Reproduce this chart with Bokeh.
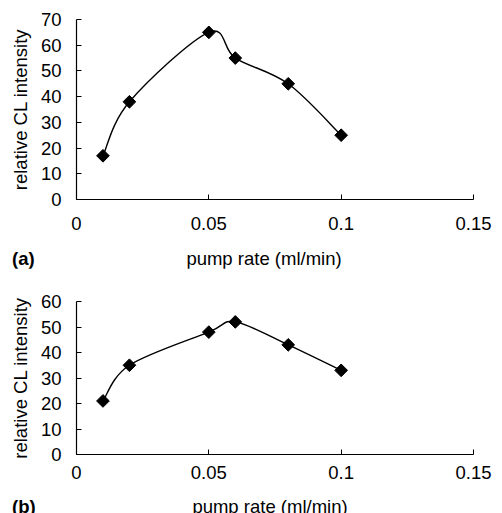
import math
from bokeh.plotting import figure
from bokeh.layouts import column, row
from bokeh.models import FixedTicker, Range1d, Div
from bokeh.embed import file_html
from bokeh.resources import INLINE

# ---- data ----
pump_rate = [0.01, 0.02, 0.05, 0.06, 0.08, 0.10]
intensity_a = [17, 38, 65, 55, 45, 25]
intensity_b = [21, 35, 48, 52, 43, 33]
x_ticks = [0, 0.05, 0.1, 0.15]
x_tick_labels = ["0", "0.05", "0.1", "0.15"]
y_ticks_a = [0, 10, 20, 30, 40, 50, 60, 70]
y_ticks_b = [0, 10, 20, 30, 40, 50, 60]
x_title = "pump rate (ml/min)"
y_title = "relative CL intensity"

FONT = "Liberation Sans"
FS = "18.5px"


def smooth_segments(xs, ys):
    # Excel-style smoothed line: Catmull-Rom segments as cubic Bezier curves
    n = len(xs)
    x0, y0, x1, y1, cx0, cy0, cx1, cy1 = [], [], [], [], [], [], [], []
    for i in range(n - 1):
        p0 = (xs[max(i - 1, 0)], ys[max(i - 1, 0)])
        p1 = (xs[i], ys[i])
        p2 = (xs[i + 1], ys[i + 1])
        p3 = (xs[min(i + 2, n - 1)], ys[min(i + 2, n - 1)])
        x0.append(p1[0]); y0.append(p1[1])
        x1.append(p2[0]); y1.append(p2[1])
        cx0.append(p1[0] + (p2[0] - p0[0]) / 6.0)
        cy0.append(p1[1] + (p2[1] - p0[1]) / 6.0)
        cx1.append(p2[0] - (p3[0] - p1[0]) / 6.0)
        cy1.append(p2[1] - (p3[1] - p1[1]) / 6.0)
    return dict(x0=x0, y0=y0, x1=x1, y1=y1, cx0=cx0, cy0=cy0, cx1=cx1, cy1=cy1)


def make_panel(values, y_ticks, ymax, height, b_top, b_bottom, b_right, tick_standoff):
    p = figure(width=502, height=height, output_backend="svg", toolbar_location=None,
               x_range=Range1d(0, 0.15), y_range=Range1d(0, ymax),
               min_border_left=76, min_border_right=b_right,
               min_border_top=b_top, min_border_bottom=b_bottom)
    p.outline_line_color = None
    p.grid.visible = False
    p.background_fill_color = "white"
    p.border_fill_color = "white"

    seg = smooth_segments(pump_rate, values)
    p.bezier(x0=seg["x0"], y0=seg["y0"], x1=seg["x1"], y1=seg["y1"],
             cx0=seg["cx0"], cy0=seg["cy0"], cx1=seg["cx1"], cy1=seg["cy1"],
             line_color="black", line_width=1.4)
    p.scatter(pump_rate, values, marker="square", angle=math.pi / 4, size=9,
              fill_color="black", line_color="black")

    for ax in (p.xaxis[0], p.yaxis[0]):
        ax.axis_line_color = "black"
        ax.axis_line_width = 1.2
        ax.major_tick_line_color = "black"
        ax.major_tick_in = 5
        ax.major_tick_out = 0
        ax.minor_tick_line_color = None
        ax.major_label_text_font = FONT
        ax.major_label_text_font_size = FS
        ax.major_label_text_color = "black"
        ax.axis_label_text_font = FONT
        ax.axis_label_text_font_size = FS
        ax.axis_label_text_font_style = "normal"
        ax.axis_label_text_color = "black"

    p.xaxis[0].ticker = FixedTicker(ticks=x_ticks)
    p.xaxis[0].major_label_overrides = {t: l for t, l in zip(x_ticks, x_tick_labels)}
    p.xaxis[0].major_label_standoff = tick_standoff

    p.yaxis[0].ticker = FixedTicker(ticks=y_ticks)
    p.yaxis[0].axis_label = y_title
    p.yaxis[0].major_label_standoff = 15
    p.yaxis[0].axis_label_standoff = 7
    return p


def label_row(tag, top_margin, h, title_width):
    base = {"font-family": FONT, "font-size": FS, "color": "black",
            "white-space": "nowrap", "overflow": "visible"}
    tag_div = Div(text=tag, width=64, height=h, margin=(top_margin, 0, 0, 12),
                  styles=dict(base, **{"font-weight": "bold"}))
    title_div = Div(text=x_title, width=title_width, height=h,
                    margin=(top_margin, 0, 0, 0),
                    styles=dict(base, **{"text-align": "center"}))
    return row(tag_div, title_div)


pa = make_panel(intensity_a, y_ticks_a, 70, 237, 19, 38, 29, 17)
ra = label_row("(a)", 9, 22, 376)
pb = make_panel(intensity_b, y_ticks_b, 60, 218, 33, 32, 19, 11)
rb = label_row("(b)", 8, 19, 388)

layout = column(pa, ra, pb, rb)
open("out.html", "w").write(file_html(layout, INLINE))
